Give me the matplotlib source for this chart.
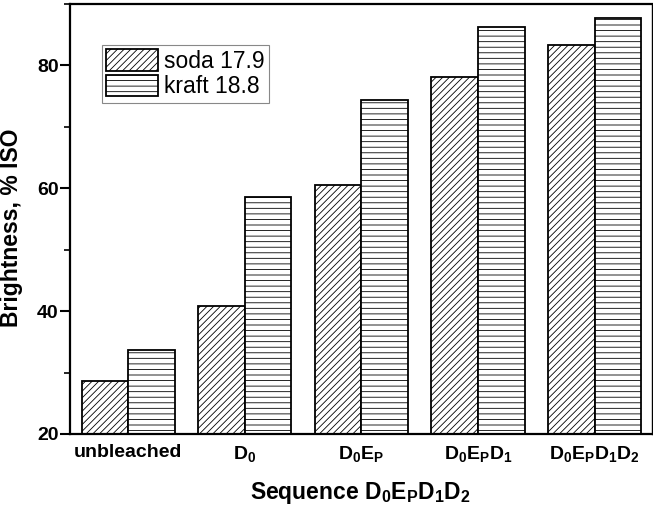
import matplotlib
matplotlib.use("Agg")
import matplotlib.pyplot as plt
import numpy as np
from matplotlib.ticker import MultipleLocator

plt.rcParams['font.family'] = ['Liberation Sans', 'DejaVu Sans']
plt.rcParams['mathtext.fontset'] = 'custom'
plt.rcParams['mathtext.rm'] = 'Liberation Sans:bold'
plt.rcParams['mathtext.bf'] = 'Liberation Sans:bold'
plt.rcParams['mathtext.it'] = 'Liberation Sans:bold'
plt.rcParams['hatch.linewidth'] = 0.6
plt.rcParams['hatch.color'] = '#444444'

categories = ['unbleached', r'$\mathbf{D_0}$', r'$\mathbf{D_0E_P}$',
              r'$\mathbf{D_0E_PD_1}$', r'$\mathbf{D_0E_PD_1D_2}$']
soda = [28.6, 40.9, 60.6, 78.1, 83.4]
kraft = [33.7, 58.6, 74.3, 86.2, 87.7]
series_labels = ['soda 17.9', 'kraft 18.8']

fig = plt.figure(figsize=(6.53, 5.07), dpi=100)
ax = fig.add_axes([0.107, 0.144, 0.891, 0.848])

x = np.arange(len(categories))
w = 0.4
ax.bar(x - w/2, soda, w, bottom=0, color='white', edgecolor='black',
       linewidth=1.3, hatch='/////', label=series_labels[0])
ax.bar(x + w/2, kraft, w, bottom=0, color='white', edgecolor='black',
       linewidth=1.3, hatch='---', label=series_labels[1])

ax.set_xlim(-0.5, 4.49)
ax.set_ylim(20, 90)
ax.set_xticks(x)
ax.set_xticklabels(categories)
ax.yaxis.set_major_locator(MultipleLocator(20))
ax.yaxis.set_minor_locator(MultipleLocator(10))
ax.tick_params(axis='x', length=0, pad=7, labelsize=14)
ax.tick_params(axis='y', which='major', direction='out', length=7, width=1.5,
               labelsize=14, pad=1)
ax.tick_params(axis='y', which='minor', direction='out', length=4, width=1.2)
for lbl in ax.get_xticklabels() + ax.get_yticklabels():
    lbl.set_fontweight('bold')
for s in ax.spines.values():
    s.set_linewidth(1.6)
ax.spines['right'].set_linewidth(1.0)

ax.set_ylabel('Brightness, % ISO', fontsize=16.5, fontweight='bold')
ax.yaxis.set_label_coords(-0.08, 0.48)
ax.set_xlabel(r'Sequence $\mathbf{D_0E_PD_1D_2}$', fontsize=16.5,
              fontweight='bold', labelpad=12)

leg = ax.legend(loc='upper left', bbox_to_anchor=(0.055, 0.905), fontsize=16.5,
                fancybox=False, framealpha=1, edgecolor='#888888',
                handlelength=2.25, handleheight=1.05, labelspacing=0.08,
                handletextpad=0.25, borderpad=0.2, borderaxespad=0)
leg.get_frame().set_linewidth(0.8)

fig.savefig('out.png', dpi=100)
